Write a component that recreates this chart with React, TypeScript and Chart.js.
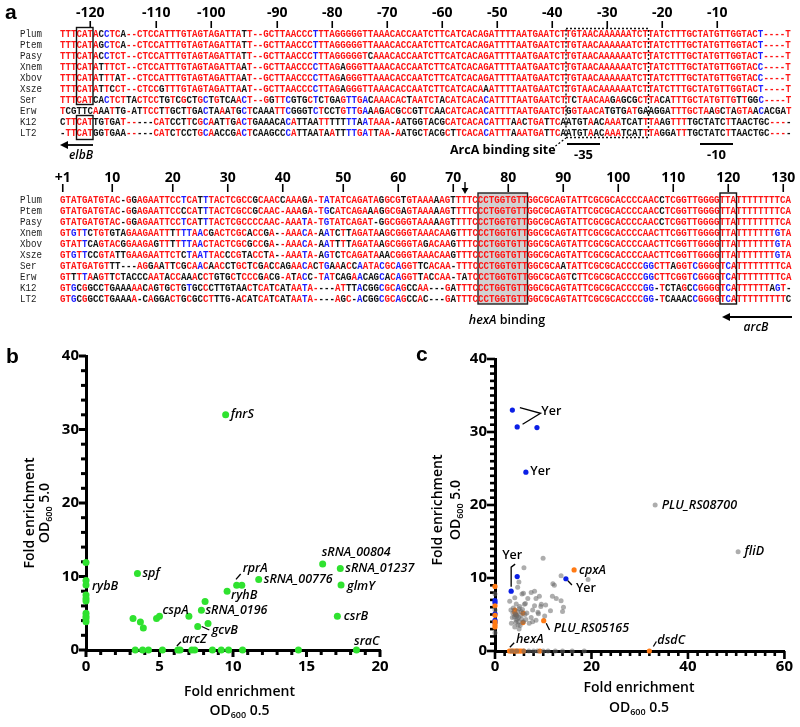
import React, { useEffect, useRef } from 'react';
import { Chart, registerables } from 'chart.js';

Chart.register(...registerables);
Chart.defaults.font.family = "'Open Sans', sans-serif";

// ---------------- Panel a: alignment ----------------
const SPECIES = ['Plum', 'Ptem', 'Pasy', 'Xnem', 'Xbov', 'Xsze', 'Ser', 'Erw', 'K12', 'LT2'];

const UPSTREAM = [
  'TTTCATACCTCA--CTCCATTTGTAGTAGATTATT--GCTTAACCCTTTAGGGGGTTAAACA' + 'CCAATCTTCATCACAGATTTTAATGAATCTTGTAACAAAAAATCTTATCTTTGCTATGTTGGTACT----T',
  'TTTCATAGCTCA--CTCCATTTGTAGTAGATTATT--GCTTAACCCTTTAGGGGGTTAAACA' + 'CCAATCTTCATCACAGATTTTAATGAATCTTGTAACAAAAAATCTTATCTTTGCTATGTTGGTACT----T',
  'TTTCATACCTCT--CTCCATTTGTAGTAGATTATT--GCTTAACCCTTTAGGGGGTCAAACA' + 'CCAATCTTCATCACAGATTTTAATGAATCTTGTAACAAAAAATCTTATCTTTGCTATGTTGGTACT----T',
  'TTTCATATTTCT--CTCCATTTGTAGTAGATTAAT--GCTTAACCCCTTAGAGGGTTAAACA' + 'CCAATCTTCATCACAGATTTTAATGAATCTTGTAACAAAAAATCTTATCTTTGCTATGTTGGTACC----T',
  'TTTCATATTTAT--CTCCATTTGTAGTAGATTAAT--GCTTAACCCCTTAGAGGGTTAAACA' + 'CCAATCTTCATCACAGATTTTAATGAATCTTGTAACAAAAAATCTTATCTTTGCTATGTTGGTACC----T',
  'TTTCATATTCCT--CTCCGTTTGTAGTAGATTAAT--GCTTAACCCCTTAGAGGGTTAAACA' + 'CCAATCTTCATCACAAATTTTAATGAATCTTGTAACAAAAAATCTTATCTTTGCTATGTTGGTACT----T',
  'TTTCATCACTCTTACTCCTGTCGCTGCTGTCAACT--GGTTCGTGCTCTGAGTTGACAAACA' + 'CTAATCTACATCACACATTTTAATGAATCTTCTAACAAGAGCGCTTACATTTGCTATGTTGTTGGC----T',
  'TCGTTCAAATTG-ATTCCTTGCTTGACTAAATGCTCAAATTCGGGTCTCCTGTTGAAAGACG' + 'CCGTTCAACATCACACATTTTAATGAATCTGGTAACATGTGATGAAGGATTTGCTAAGCTAGTAACACGAT',
  'CTTCATTGTGAT-----CATCCTTCGCAATTGACTGAAACACATTAATTTTTTTAATAAA-A' + 'ATGGTACGCATCACACATTTAACTGATTCAATGTAACAAATCATTTAAGTTTTGCTATCTTAACTGC----',
  '-TTCATGGTGAA-----CATCTCCTGCAACCGACTCAAGCCCATTAATAATTTTGATTAA-A' + 'ATGCTACGCTTCACACATTTAAATGATTCAATGTAACAAATCATTTAGGATTTGCTATCTTAACTGC----',
];

const DOWNSTREAM = [
  'GTATGATGTAC-GGAGAATTCCTCATTTACTCGCCGCAACCAAAGA-TATATCAGATAGGCG' + 'TGTAAAAAGTTTTCCCTGGTGTTGGCGCAGTATTCGCGCACCCCAACCTCGGTTGGGGTTATTTTTTTTCA',
  'GTATGATGTAC-GGAGAATTCCCCATTTACTCGCCGCAAC-AAAGA-TGCATCAGAAAGGCG' + 'AGTAAAAAGTTTTCCCTGGTGTTGGCGCAGTATTCGCGCACCCCAACCTCGGTTGGGGTTATTTTTTTTCA',
  'GTATGATGTAC-GGAGAATTCCTCATTTACTCGCCCCAAC-AAATA-TGTATCAGAT-GGCG' + 'GGTAAAAAGTTTTCCCTGGTGTTGGCGCAGTATTCGCGCACCCCAACCTCGGTTGGGGTTATTTTTTTTCA',
  'GTGTTCTGTGTAGAAGAATTTTTTAACGACTCGCACCGA--AAACA-AATCTTAGATAAGCG' + 'GGTAAACAAGTTTCCCTGGTGTTGGCGCAGTATTCGCGCACCCCAACTTCGGTTGGGGTTATTTTTTTGTA',
  'GTATTCAGTACGGAAGAGTTTTTTAACTACTCGCGCCGA--AAACA-AATTTTAGATAAGCG' + 'GGTAGACAAGTTTCCCTGGTGTTGGCGCAGTATTCGCGCACCCCAACTTCGGTTGGGGTTATTTTTTTGTA',
  'GTGTTCCGTATTGAAGAATTCTCTAATTACCCGTACCTA--AAATA-AGTCTCAGATAAACG' + 'GGTAAACAAGTTTCCCTGGTGTTGGCGCAGTATTCGCGCACCCCAACTTCGGTTGGGGTTATTTTTTTGTA',
  'GTATGATGTTT---AGGAATTCGCAACAACCTGCTCGACCAGAACACTGAAACCAATACGCA' + 'GGTTCACAA-TTTCCCTGGTGTTGGCGCAATATTCGCGCACCCCGGCTTAGGTCGGGGTCATTTTTTTTCA',
  'GTTTTAAGTTCTACCCAATACCAAACCTGTGCTCCCGACG-ATACC-TATCAGAACAGCACA' + 'GGTTACCAA-TATCCCTGGTGTTGGCGCAGTCTTCGCGCACCCCGGCTTCGGTCGGGGTCATTTTTTTTCA',
  'GTGCGGCCTGAAAAACAGTGCTGTGCCCTTGTAACTCATCATAATA----ATTTACGGCGCA' + 'GCCAA---GATTTCCCTGGTGTTGGCGCAGTATTCGCGCACCCCGG-TCTAGCCGGGGTCATTTTTTAGT-',
  'GTGCGGCCTGAAAA-CAGGACTGCGCCTTTG-ACATCATCATAATA----AGC-ACGGCGCA' + 'GCCAC---GATTTCCCTGGTGTTGGCGCAGTATTCGCGCACCCCGG-TCAAACCGGGGTCATTTTTTTTTC',
];

const UP_TICK_LABELS = ['-120', '-110', '-100', '-90', '-80', '-70', '-60', '-50', '-40', '-30', '-20', '-10'];
const UP_TICK_COLS = [5, 17, 27, 39, 49, 59, 69, 79, 89, 99, 109, 119];
const DOWN_TICK_LABELS = ['+1', '10', '20', '30', '40', '50', '60', '70', '80', '90', '100', '110', '120', '130'];
const DOWN_TICK_COLS = [0, 9, 20, 30, 40, 51, 61, 71, 81, 91, 101, 111, 121, 131];

// ---------------- Panel b data ----------------
const B_X = [
  0, 0, 0, 0, 0, 0, 0, 0, 0, 0,
  3.5, 3.2, 3.7, 3.9, 4.8, 5.0, 7.0,
  8.1, 7.85, 7.6, 8.3, 9.6, 10.25, 10.6, 11.75,
  16.1, 17.3, 17.35, 17.1, 9.5,
  3.35, 3.85, 4.25, 5.2, 6.25, 6.4, 7.2, 7.4, 8.6, 9.2, 9.7, 10.65, 14.45, 18.4,
];
const B_Y = [
  11.9, 9.45, 8.85, 7.5, 7.0, 6.65, 5.0, 4.6, 4.3, 3.85,
  10.4, 4.3, 3.8, 3.0, 4.3, 4.6, 4.6,
  6.6, 5.4, 3.2, 3.6, 8.0, 8.8, 8.8, 9.6,
  11.7, 11.1, 8.85, 4.6, 32.0,
  0, 0, 0, 0, 0, 0, 0, 0, 0, 0, 0, 0, 0, 0,
];
const B_LABEL_TEXT = ['fnrS', 'rybB', 'spf', 'cspA', 'sRNA_0196', 'gcvB', 'arcZ', 'ryhB', 'rprA', 'sRNA_00776', 'sRNA_00804', 'sRNA_01237', 'glmY', 'csrB', 'sraC'];
const B_LABEL_X = [9.5, 0, 3.5, 5.0, 7.85, 7.6, 6.25, 9.6, 10.25, 11.75, 16.1, 17.3, 17.35, 17.1, 18.4];
const B_LABEL_Y = [32, 8.85, 10.4, 4.6, 5.4, 3.2, 0, 8.0, 8.8, 9.6, 11.7, 11.1, 8.85, 4.6, 0];

// ---------------- Panel c data ----------------
const C_GRAY_X = [
  9.97, 6.0, 13.7, 19.3, 12.0, 4.95, 4.7, 5.9, 7.5, 8.5, 3.05, 4.4, 6.3, 11.9, 12.7, 13.7, 10.5, 9.5, 14.2, 14.0,
  11.5, 7.8, 9.0, 7.5, 6.4, 8.5, 3.6, 3.4, 4.4, 5.2, 4.1, 4.5, 5.4, 5.1, 7.1, 5.9, 4.9, 7.8, 4.7, 4.5,
  4.9, 5.5, 4.2, 3.3, 6.8, 6.1, 3.8, 8.2, 9.6, 8.9, 10.3, 6.2, 5.6, 4.1, 12.3, 8.2, 9.2, 33.2, 50.4,
  4.6, 5.0, 4.3, 5.3, 4.8, 4.0, 5.7, 6.6, 3.7, 5.0,
  3.5, 4.5, 6.0, 7.0, 8.0, 8.8, 10.0, 11.0, 12.5, 14.0, 16.0, 18.5, 0, 0, 0,
];
const C_GRAY_Y = [
  12.7, 11.4, 10.3, 9.8, 9.2, 9.45, 8.75, 7.9, 8.0, 7.2, 6.8, 6.45, 6.5, 7.5, 7.2, 6.9, 6.3, 6.1, 6.0, 5.4,
  5.5, 5.6, 5.1, 4.6, 4.3, 4.2, 4.6, 3.8, 4.2, 3.5, 3.3, 4.9, 5.4, 6.1, 3.8, 4.0, 4.6, 4.0, 5.4, 4.8,
  4.0, 4.4, 5.0, 5.6, 7.2, 6.4, 5.9, 6.2, 6.4, 5.3, 4.8, 5.0, 7.8, 7.3, 9.0, 8.2, 7.5, 20.0, 13.6,
  4.4, 5.8, 3.9, 4.9, 3.6, 4.7, 5.7, 5.2, 5.2, 3.0,
  0, 0, 0, 0, 0, 0, 0, 0, 0, 0, 0, 0, 2.5, 5.6, 7.8,
];
const C_ORANGE_X = [16.4, 10.1, 4.1, 4.1, 4.3, 5.8, 5.8, 32.0, 3.0, 3.4, 3.8, 4.2, 4.6, 5.0, 5.4, 5.9, 9.3, 0, 0, 0, 0, 0, 0];
const C_ORANGE_Y = [11.1, 4.15, 5.6, 5.3, 5.0, 5.2, 3.9, 0, 0, 0, 0, 0, 0, 0, 0, 0, 0, 8.85, 6.2, 4.9, 4.0, 3.6, 3.3];
const C_BLUE_X = [3.6, 4.6, 8.7, 6.4, 3.35, 4.6, 14.7, 0, 0, 0, 0, 0];
const C_BLUE_Y = [33.0, 30.7, 30.6, 24.5, 8.2, 10.2, 9.9, 6.9, 6.6, 5.1, 4.2, 3.9];
const C_LABEL_TEXT = ['Yer', 'Yer', 'Yer', 'Yer', 'cpxA', 'PLU_RS05165', 'hexA', 'dsdC', 'PLU_RS08700', 'fliD'];
const C_LABEL_X = [3.6, 6.4, 3.35, 14.7, 16.4, 10.1, 3.0, 32.0, 33.2, 50.4];
const C_LABEL_Y = [33.0, 24.5, 8.2, 9.9, 11.1, 4.15, 0, 0, 20.0, 13.6];

// ---------------- styles ----------------
const RED = '#ff1414';
const BLUE = '#1c1cff';
const BLACK = '#111111';
const GREEN = '#2fe22f';
const ORANGE = '#ff7a14';
const DBLUE = '#0b1fe6';
const GRAY = 'rgba(105,105,105,0.55)';
const X0 = 60;
const CW = 5.5;
const TOP_Y0 = 33;
const BOT_Y0 = 199;
const ROW_H = 11;

type Lab = { dx: number; dy: number; italic?: boolean; align?: CanvasTextAlign; leader?: number[][] };

const B_LABEL_STYLE: Lab[] = [
  { dx: 5, dy: 0 },
  { dx: 6, dy: 1 },
  { dx: 5, dy: 0 },
  { dx: 3, dy: -6 },
  { dx: 4, dy: 0 },
  { dx: 14, dy: 4, leader: [[4, 0], [11.6, 3.5]] },
  { dx: 4, dy: -11, leader: [[-1, -4], [3, -8.3]] },
  { dx: 4, dy: 4 },
  { dx: 6, dy: -17, leader: [[-0.7, -6], [4, -11.3]] },
  { dx: 5, dy: 0 },
  { dx: -1, dy: -11.5 },
  { dx: 5, dy: 0 },
  { dx: 6, dy: 1 },
  { dx: 6.5, dy: 0 },
  { dx: -2.5, dy: -8.5 },
];
const C_LABEL_STYLE: Lab[] = [
  { dx: 29, dy: 1, italic: false, leader: [[7.5, -2.4], [28.2, 3.2], [10.2, 14.2]] },
  { dx: 4.5, dy: -1, italic: false },
  { dx: 1, dy: -36, italic: false, align: 'center', leader: [[0, -4.5], [0, -24], [4, -27]] },
  { dx: 10, dy: 10, italic: false, leader: [[2, 2], [6, 6.3]] },
  { dx: 5, dy: 0 },
  { dx: 10, dy: 7.6, leader: [[2.5, 2.6], [5.8, 9.3]] },
  { dx: 6.5, dy: -12, leader: [[0.4, -3.7], [4.7, -8.3]] },
  { dx: 8, dy: -11, leader: [[4, -4.5], [7, -9.5]] },
  { dx: 6.5, dy: 0 },
  { dx: 6.5, dy: 0 },
];

function colorize(rows: string[]) {
  return rows.map((row) => {
    const runs: { t: string; c: string }[] = [];
    for (let i = 0; i < row.length; i++) {
      const ch = row[i];
      let n = 0;
      for (const r of rows) if (r[i] === ch) n++;
      let c: string;
      if (ch === '-') c = n >= 5 ? RED : BLACK;
      else if (n >= 5) c = RED;
      else if (n === 4) c = BLUE;
      else c = BLACK;
      const last = runs[runs.length - 1];
      if (last && last.c === c) last.t += ch;
      else runs.push({ t: ch, c });
    }
    return runs;
  });
}

function pts(xs: number[], ys: number[]) {
  return xs.map((x, i) => ({ x, y: ys[i] }));
}

function labelPlugin(texts: string[], xs: number[], ys: number[], styles: Lab[]) {
  return {
    id: 'pointLabels',
    afterDatasetsDraw(chart: any) {
      const { ctx, scales } = chart;
      texts.forEach((t, i) => {
        const s = styles[i];
        const px = scales.x.getPixelForValue(xs[i]);
        const py = scales.y.getPixelForValue(ys[i]);
        ctx.save();
        if (s.leader) {
          ctx.beginPath();
          s.leader.forEach(([dx, dy], k) => (k ? ctx.lineTo(px + dx, py + dy) : ctx.moveTo(px + dx, py + dy)));
          ctx.strokeStyle = '#000';
          ctx.lineWidth = 1.3;
          ctx.stroke();
        }
        const italic = s.italic !== false;
        ctx.font = `${italic ? 'italic ' : ''}600 12.5px 'Open Sans'`;
        ctx.fillStyle = '#000';
        ctx.textBaseline = 'middle';
        ctx.textAlign = s.align || 'left';
        ctx.fillText(t, px + s.dx, py + s.dy);
        ctx.restore();
      });
    },
  };
}

function tickPlugin(o: { yMax: number; yMajor: number; yMinor: number; xMax: number; xMajor: number; xMinor: number; w: number; major: number; minor: number }) {
  return {
    id: 'axisTicks',
    beforeDatasetsDraw(chart: any) {
      const { ctx, scales, chartArea } = chart;
      ctx.save();
      ctx.fillStyle = '#000';
      const isMajor = (v: number, m: number) => Math.abs(v / m - Math.round(v / m)) < 1e-6;
      for (let k = 0; k * o.yMinor <= o.yMax + 1e-9; k++) {
        const v = k * o.yMinor;
        const len = isMajor(v, o.yMajor) ? o.major : o.minor;
        const py = scales.y.getPixelForValue(v);
        ctx.fillRect(chartArea.left - len, py - o.w / 2, len, o.w);
      }
      for (let k = 0; k * o.xMinor <= o.xMax + 1e-9; k++) {
        const v = k * o.xMinor;
        const len = isMajor(v, o.xMajor) ? o.major : o.minor;
        const px = scales.x.getPixelForValue(v);
        ctx.fillRect(px - o.w / 2, chartArea.bottom, o.w, len);
      }
      ctx.restore();
    },
  };
}

function scatterConfig(p: any) {
  const tickFont = { family: "'Open Sans'", weight: 'bold' as const, size: 15 };
  return {
    type: 'scatter' as const,
    data: { datasets: p.datasets },
    options: {
      responsive: false,
      animation: false as const,
      events: [],
      layout: { padding: p.padding },
      plugins: { legend: { display: false }, tooltip: { enabled: false } },
      scales: {
        x: {
          type: 'linear' as const,
          min: 0,
          max: p.xMax,
          afterFit: (s: any) => { s.height = p.xHeight; },
          grid: { display: false, drawTicks: false },
          border: { display: true, width: 3, color: '#000' },
          ticks: { stepSize: p.xStep, padding: p.xPad, color: '#000', font: tickFont, maxRotation: 0, autoSkip: false },
        },
        y: {
          type: 'linear' as const,
          min: 0,
          max: 40,
          afterFit: (s: any) => { s.width = p.yWidth; },
          grid: { display: false, drawTicks: false },
          border: { display: true, width: 3, color: '#000' },
          ticks: { stepSize: 10, padding: p.yPad, color: '#000', font: tickFont, autoSkip: false },
        },
      },
    },
    plugins: [tickPlugin(p.ticks), labelPlugin(p.lt, p.lx, p.ly, p.ls)],
  };
}

function ds(data: any[], color: string, r: number) {
  return { data, pointRadius: r, pointBackgroundColor: color, pointBorderWidth: 0, showLine: false, clip: false };
}

export default function App() {
  const bRef = useRef<HTMLCanvasElement>(null);
  const cRef = useRef<HTMLCanvasElement>(null);

  useEffect(() => {
    const cb = new Chart(bRef.current as HTMLCanvasElement, scatterConfig({
      datasets: [ds(pts(B_X, B_Y), GREEN, 3.5)],
      padding: { left: 0, right: 60, top: 26, bottom: 0 },
      xMax: 20, xStep: 5, xHeight: 77, yWidth: 86, xPad: 8, yPad: 7,
      ticks: { yMax: 40, yMajor: 10, yMinor: 2, xMax: 20, xMajor: 5, xMinor: 1, w: 3, major: 7, minor: 5 },
      lt: B_LABEL_TEXT, lx: B_LABEL_X, ly: B_LABEL_Y, ls: B_LABEL_STYLE,
    }) as any);
    const cc = new Chart(cRef.current as HTMLCanvasElement, scatterConfig({
      datasets: [
        ds(pts(C_GRAY_X, C_GRAY_Y), GRAY, 2.5),
        ds(pts(C_ORANGE_X, C_ORANGE_Y), ORANGE, 2.6),
        ds(pts(C_BLUE_X, C_BLUE_Y), DBLUE, 2.6),
      ],
      padding: { left: 0, right: 13, top: 29, bottom: 0 },
      xMax: 60, xStep: 20, xHeight: 76, yWidth: 95, xPad: 7, yPad: 8,
      ticks: { yMax: 40, yMajor: 10, yMinor: 1, xMax: 60, xMajor: 20, xMinor: 2, w: 2.6, major: 8, minor: 5 },
      lt: C_LABEL_TEXT, lx: C_LABEL_X, ly: C_LABEL_Y, ls: C_LABEL_STYLE,
    }) as any);
    return () => { cb.destroy(); cc.destroy(); };
  }, []);

  const top = colorize(UPSTREAM);
  const bot = colorize(DOWNSTREAM);
  const mono = "'Liberation Mono', 'DejaVu Sans Mono', monospace";
  const sans = "'Open Sans', sans-serif";
  const colX = (c: number) => X0 + (c + 0.5) * CW;

  const seqRows = (rows: { t: string; c: string }[][], y0: number, key: string) =>
    rows.map((runs, i) => (
      <g key={key + i}>
        <g transform={`translate(20,${y0 + i * ROW_H + 3.6}) scale(${CW / 6.3},1)`}>
          <text x={0} y={0} fontFamily={mono} fontSize={10.5} fill="#222">{SPECIES[i]}</text>
        </g>
        <g transform={`translate(${X0},${y0 + i * ROW_H + 3.6}) scale(${CW / 6.3},1)`}>
          <text x={0} y={0} fontFamily={mono} fontSize={10.5} fontWeight={700}>
            {runs.map((r, j) => <tspan key={j} fill={r.c}>{r.t}</tspan>)}
          </text>
        </g>
      </g>
    ));

  const botTop = BOT_Y0 - 6;
  const botH = 9 * ROW_H + 12;

  return (
    <div style={{ position: 'absolute', left: 0, top: 0, width: 800, height: 727, background: '#fff', overflow: 'hidden' }}>
      <canvas ref={bRef} width={440} height={397} style={{ position: 'absolute', left: 0, top: 330 }} />
      <canvas ref={cRef} width={400} height={397} style={{ position: 'absolute', left: 400, top: 330 }} />
      <svg width={800} height={727} style={{ position: 'absolute', left: 0, top: 0 }}>
        {/* panel letters */}
        <text x={5} y={19} fontFamily="'Liberation Sans', Arial, sans-serif" fontWeight={700} fontSize={21}>a</text>
        <text x={6} y={363} fontFamily="'Liberation Sans', Arial, sans-serif" fontWeight={700} fontSize={21}>b</text>
        <text x={416} y={361} fontFamily="'Liberation Sans', Arial, sans-serif" fontWeight={700} fontSize={21}>c</text>

        {/* top ruler */}
        {UP_TICK_LABELS.map((l, i) => (
          <g key={'ut' + i}>
            <text x={colX(UP_TICK_COLS[i])} y={17} textAnchor="middle" fontFamily={sans} fontWeight={700} fontSize={14}>{l}</text>
            <line x1={colX(UP_TICK_COLS[i])} x2={colX(UP_TICK_COLS[i])} y1={21} y2={28} stroke="#000" strokeWidth={1.6} />
          </g>
        ))}
        {/* bottom ruler */}
        {DOWN_TICK_LABELS.map((l, i) => (
          <g key={'dt' + i}>
            <text x={colX(DOWN_TICK_COLS[i])} y={181.5} textAnchor="middle" fontFamily={sans} fontWeight={700} fontSize={14}>{l}</text>
            <line x1={colX(DOWN_TICK_COLS[i])} x2={colX(DOWN_TICK_COLS[i])} y1={184} y2={192} stroke="#000" strokeWidth={1.6} />
          </g>
        ))}
        {/* down arrow near +70 */}
        <line x1={465} x2={465} y1={182} y2={191} stroke="#000" strokeWidth={1.4} />
        <polygon points="461.5,188 468.5,188 465,194" fill="#000" />

        {/* hexA gray box (behind text) */}
        <rect x={X0 + 76 * CW} y={botTop} width={9 * CW} height={botH} fill="#d2d2d2" stroke="#222" strokeWidth={1.4} />

        {seqRows(top, TOP_Y0, 'u')}
        {seqRows(bot, BOT_Y0, 'd')}

        {/* top boxes */}
        <rect x={X0 + 3 * CW} y={TOP_Y0 - 5.5} width={3 * CW} height={7 * ROW_H} fill="none" stroke="#111" strokeWidth={1.4} />
        <rect x={X0 + 3 * CW} y={TOP_Y0 + 8 * ROW_H - 5.5} width={3 * CW} height={2 * ROW_H + 2} fill="none" stroke="#111" strokeWidth={1.4} />
        <rect x={X0 + 92 * CW} y={28.5} width={15 * CW} height={109} fill="none" stroke="#111" strokeWidth={1.4} strokeDasharray="2,2" />
        {/* TTA box bottom */}
        <rect x={X0 + 120 * CW} y={botTop} width={3 * CW} height={botH} fill="none" stroke="#111" strokeWidth={1.4} />

        {/* elbB arrow */}
        <line x1={93} x2={66} y1={145} y2={145} stroke="#000" strokeWidth={1.8} />
        <polygon points="60,145 68,141 68,149" fill="#000" />
        <text x={81} y={159} textAnchor="middle" fontFamily={sans} fontStyle="italic" fontWeight={600} fontSize={12}>elbB</text>

        {/* ArcA binding site */}
        <text x={450} y={154} fontFamily={sans} fontWeight={700} fontSize={12.5}>ArcA binding site</text>
        <line x1={549} y1={151} x2={566} y2={138} stroke="#000" strokeWidth={1.2} strokeDasharray="2,2" />
        <line x1={567} x2={600} y1={144} y2={144} stroke="#000" strokeWidth={1.8} />
        <text x={583.5} y={159} textAnchor="middle" fontFamily={sans} fontWeight={700} fontSize={13}>-35</text>
        <line x1={700} x2={733} y1={144} y2={144} stroke="#000" strokeWidth={1.8} />
        <text x={716.5} y={159} textAnchor="middle" fontFamily={sans} fontWeight={700} fontSize={13}>-10</text>

        {/* hexA binding */}
        <text x={507} y={324} textAnchor="middle" fontFamily={sans} fontWeight={600} fontSize={12.5}>
          <tspan fontStyle="italic">hexA</tspan> binding
        </text>
        {/* arcB arrow */}
        <line x1={792} x2={728} y1={317} y2={317} stroke="#000" strokeWidth={1.8} />
        <polygon points="722,317 730,313 730,321" fill="#000" />
        <text x={756} y={331} textAnchor="middle" fontFamily={sans} fontStyle="italic" fontWeight={600} fontSize={12}>arcB</text>

        {/* axis titles panel b */}
        <text x={239.5} y={696} textAnchor="middle" fontFamily={sans} fontWeight={600} fontSize={14}>Fold enrichment</text>
        <text x={239.5} y={715} textAnchor="middle" fontFamily={sans} fontWeight={600} fontSize={14}>OD<tspan fontSize={9} dy={3}>600</tspan><tspan dy={-3}> 0.5</tspan></text>
        <g transform="translate(29,513) rotate(-90)">
          <text x={0} y={5} textAnchor="middle" fontFamily={sans} fontWeight={600} fontSize={14}>Fold enrichment</text>
        </g>
        <g transform="translate(44,513) rotate(-90)">
          <text x={0} y={5} textAnchor="middle" fontFamily={sans} fontWeight={600} fontSize={14}>OD<tspan fontSize={9} dy={3}>600</tspan><tspan dy={-3}> 5.0</tspan></text>
        </g>

        {/* axis titles panel c */}
        <text x={639} y={692} textAnchor="middle" fontFamily={sans} fontWeight={600} fontSize={14}>Fold enrichment</text>
        <text x={639} y={712} textAnchor="middle" fontFamily={sans} fontWeight={600} fontSize={14}>OD<tspan fontSize={9} dy={3}>600</tspan><tspan dy={-3}> 0.5</tspan></text>
        <g transform="translate(437,510) rotate(-90)">
          <text x={0} y={5} textAnchor="middle" fontFamily={sans} fontWeight={600} fontSize={14}>Fold enrichment</text>
        </g>
        <g transform="translate(455,510) rotate(-90)">
          <text x={0} y={5} textAnchor="middle" fontFamily={sans} fontWeight={600} fontSize={14}>OD<tspan fontSize={9} dy={3}>600</tspan><tspan dy={-3}> 5.0</tspan></text>
        </g>
      </svg>
    </div>
  );
}
